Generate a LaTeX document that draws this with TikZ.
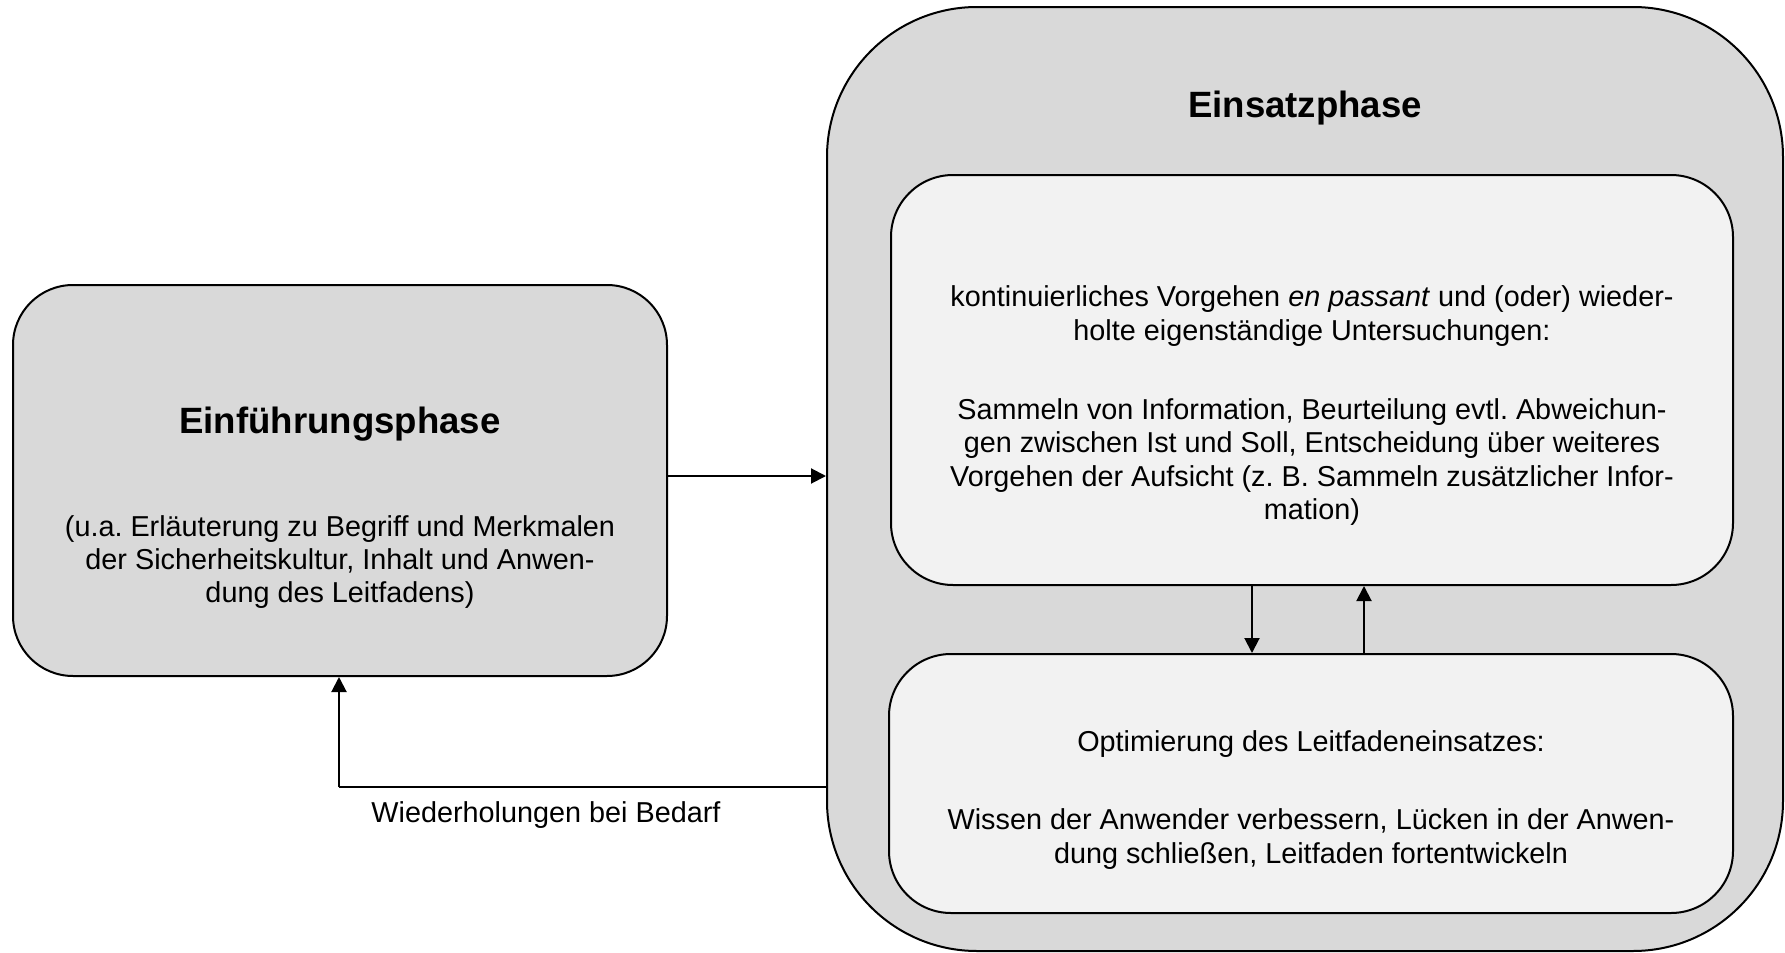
\documentclass[tikz,border=0pt]{standalone}
\usepackage{fontspec}
\setmainfont{Liberation Sans}
\frenchspacing
\usetikzlibrary{arrows.meta}
\definecolor{boxgray}{RGB}{217,217,217}
\definecolor{lightgray}{RGB}{242,242,242}
\tikzset{
  bigbox/.style={draw=black, line width=1pt, fill=boxgray, rounded corners=75pt, inner sep=0pt},
  phasebox/.style={draw=black, line width=1pt, fill=boxgray, rounded corners=30pt, inner sep=0pt},
  innerbox/.style={draw=black, line width=1pt, fill=lightgray, rounded corners=31pt, inner sep=0pt},
  bodytext/.style={align=center, inner sep=0pt, font=\fontsize{14.4pt}{16.65pt}\selectfont},
  titletext/.style={align=center, inner sep=0pt, font=\fontsize{18.3pt}{21pt}\selectfont\bfseries},
  arr/.style={line width=1pt, -{Triangle[length=7.5pt, width=7.5pt]}},
  conn/.style={line width=1pt}
}
\begin{document}
\begin{tikzpicture}[x=0.5pt, y=-0.5pt]
\useasboundingbox (0,0) rectangle (1785,953);
% main boxes
\node[phasebox, minimum width=327pt, minimum height=195.5pt] (left) at (340,480.5) {};
\node[bigbox, minimum width=478pt, minimum height=472pt] (big) at (1305,479) {};
\node[innerbox, minimum width=421pt, minimum height=205pt] (top) at (1312,380) {};
\node[innerbox, minimum width=422pt, minimum height=129.5pt] (bot) at (1311,783.5) {};
% texts
\node[titletext] (lt) at (340,424) {Einführungsphase};
\node[bodytext] (lb) at (340,562) {(u.a. Erläuterung zu Begriff und Merkmalen\\der Sicherheitskultur, Inhalt und Anwen-\\dung des Leitfadens)};
\node[titletext] (bt) at (1305,108) {Einsatzphase};
\node[bodytext] (t1) at (1312,316) {kontinuierliches Vorgehen \textit{en passant} und (oder) wieder-\\holte eigenständige Untersuchungen:};
\node[bodytext] (t2) at (1312,462) {Sammeln von Information, Beurteilung evtl. Abweichun-\\gen zwischen Ist und Soll, Entscheidung über weiteres\\Vorgehen der Aufsicht (z. B. Sammeln zusätzlicher Infor-\\mation)};
\node[bodytext] (b1) at (1311,744) {Optimierung des Leitfadeneinsatzes:};
\node[bodytext] (b2) at (1311,839) {Wissen der Anwender verbessern, Lücken in der Anwen-\\dung schließen, Leitfaden fortentwickeln};
\node[bodytext] (wl) at (546,815) {Wiederholungen bei Bedarf};
% connectors
\coordinate (ra) at (0,476);
\coordinate (ret) at (339,787);
\coordinate (dn) at (1252,0);
\coordinate (up) at (1364,0);
\draw[arr] (left.east |- ra) -- (big.west |- ra);
\draw[conn] (big.west |- ret) -- (ret);
\draw[arr] (ret) -- (ret |- left.south);
\draw[arr] (dn |- top.south) -- (dn |- bot.north);
\draw[arr] (up |- bot.north) -- (up |- top.south);
\end{tikzpicture}
\end{document}
